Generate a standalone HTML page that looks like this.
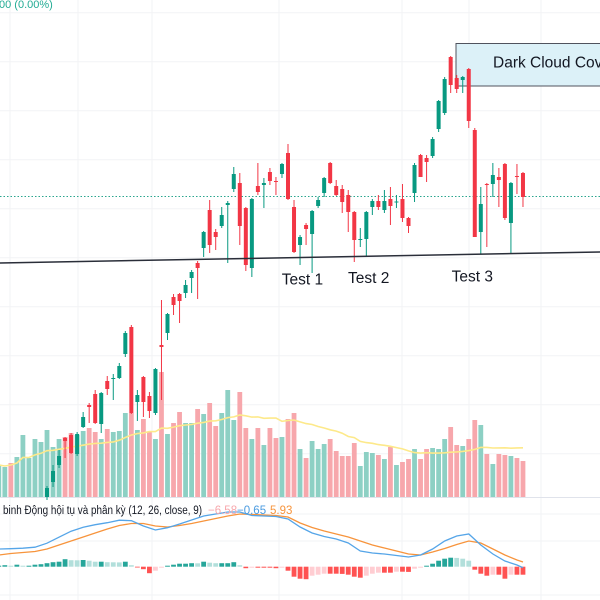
<!DOCTYPE html>
<html><head><meta charset="utf-8"><style>
html,body{margin:0;padding:0;background:#fff;}
#wrap{position:relative;width:600px;height:600px;overflow:hidden;}
svg text{font-family:"Liberation Sans","Noto Sans CJK SC",sans-serif;}
</style></head><body>
<div id="wrap">
<svg id="chart" width="600" height="600" viewBox="0 0 600 600"></svg>
</div>
<script>
// ---- data ----
const opens  = [30.3,31.8,33.5,36.2,36.5,34.6,37.3,39.5,40.6,37.6,41.9,42.1,42.2,44.6,47.3,39.8,42.3,40.4,38.7,45.5,46.7,50.3,50.6,50.7,52.2,53.7,55.2,59.0,56.8,57.4,59.5,61.1,61.7,59.2,53.2,61.4,61.5,62.8,61.9,62.6,64.7,59.3,55.5,57.5,56.6,59.4,60.7,63.7,61.4,61.1,60.5,58.8,56.0,56.1,59.3,59.9,59.0,60.1,59.75,60.1,58.2,60.7,64.5,64.2,64.4,67.1,68.7,74.3,72.2,72.0,73.1,67.0,56.8,61.6,61.6,62.3,63.6,57.7,62.4,62.7];
const highs  = [31.4,33.5,35.0,36.3,36.7,36.8,38.8,39.7,41.0,40.8,42.4,42.6,43.7,46.9,47.5,41.0,42.4,40.8,43.2,50.0,48.7,50.6,50.7,52.0,53.0,53.9,56.9,60.0,57.1,59.3,59.9,63.3,62.7,59.3,60.2,63.7,62.2,63.2,62.3,63.7,65.6,60.0,56.5,57.7,59.0,60.3,62.3,63.8,62.0,61.5,61.0,58.9,57.2,58.9,60.1,60.5,61.0,61.3,60.5,61.6,58.3,63.7,64.6,64.5,66.3,70.0,72.3,74.4,72.5,72.4,73.2,67.2,61.3,61.7,63.7,63.2,63.7,61.8,63.6,62.8];
const lows   = [30.0,31.3,33.2,34.2,34.6,34.4,37.2,37.7,37.6,36.7,40.5,40.0,42.1,44.3,38.6,37.9,38.3,38.2,38.5,40.0,46.0,48.5,47.7,50.2,50.7,50.1,54.3,54.7,55.0,57.2,53.7,60.8,55.5,52.9,52.3,60.5,59.2,61.5,60.5,62.2,60.0,54.7,53.5,55.5,52.7,59.2,60.3,61.6,60.4,58.7,56.8,53.8,55.3,54.3,58.5,59.0,58.7,57.5,59.2,57.8,56.7,59.8,62.3,61.8,64.2,66.8,68.5,70.7,70.7,70.7,67.2,56.3,54.6,55.3,60.3,59.3,58.0,54.7,60.6,59.3];
const closes = [31.2,32.9,34.4,35.9,34.7,36.6,38.3,39.3,37.7,40.7,41.1,42.2,43.4,46.7,38.7,40.5,39.8,38.9,43.1,45.3,48.6,49.5,49.9,51.5,52.8,53.2,56.8,55.5,56.3,58.5,59.7,62.6,57.4,53.5,60.1,60.8,61.7,61.9,61.8,63.6,60.1,54.8,56.3,57.1,58.9,60.0,62.2,61.7,60.5,59.8,58.8,56.0,56.1,58.8,59.9,59.3,59.9,59.4,59.85,58.2,57.4,63.5,62.3,63.8,66.1,69.9,72.1,71.5,71.1,72.3,67.9,56.3,59.6,61.5,62.5,62.0,58.2,61.7,62.3,60.3];
const preVolumes = [320,300,340,400,620,390,580,550];
const preVolumeUp = [true,true,false,true,true,true,true,true];
const volumes = [670,500,580,600,640,620,660,690,650,580,680,650,660,840,840,670,780,650,580,1250,630,740,850,740,740,880,830,940,710,840,1070,770,1050,690,580,690,520,690,590,600,780,840,480,390,560,480,530,580,460,410,410,540,310,450,440,420,380,500,320,350,380,480,380,480,490,480,580,700,520,510,580,770,720,430,330,430,420,410,390,360];
const histValues = [1,1.5,1,2,1,1,2,2.5,3.5,4.5,5,7.5,6.5,6.4,6.7,6,5,5,4.5,4.4,4.3,5,1.5,-0.5,-2.5,-6.5,-4,-1,1,2,3,3,3.5,3.4,5,4,3.5,3.5,3.5,4.5,1.5,-1.5,-1,-1,-1,-1,-1.5,-1,-4,-10,-12,-12.5,-9,-8,-7,-7,-7,-7.2,-8,-10,-11,-9,-7,-6,-6,-6,-5,-5,-5.2,-2,-1,1,3,6,8,9,8.8,8,6,-3,-7,-9,-8,-8,-12,-8,-8,-8];
const macdIndex = [-8,-6,-4,-2,0,2,4,6,8,10,12,14,16,18,20,22,24,26,28,30,32,34,36,38,40,42,44,46,48,50,52,54,56,58,60,62,64,66,68,70,72,74,76,78,79];
const macdValues = [17.7,18,18.5,19.5,23.5,29.5,35.5,39.5,42,44,46.5,46,40.7,36.7,39,42.7,46.7,50.7,52.7,54.7,54.7,51.2,50.7,50.2,47.7,39.7,33.7,30.2,27.7,23.7,15.7,13.7,12.7,11.2,9.7,11.7,17.7,25.7,30.7,32.7,21.7,12.7,5.7,1.7,-1];
const signalValues = [11.7,13.2,14.2,15.2,17.7,21.7,25.7,29.7,33.7,37.7,41.2,43.2,43.2,40.7,39.7,41.2,43.2,45.7,48.2,50.7,52.7,52.2,51.7,51.2,49.7,43.7,39.2,35.7,32.7,29.7,25.7,21.7,18.7,15.7,12.7,11.7,14.7,18.2,22.2,25.7,23.7,17.7,11.7,6.7,4.7];
const testLabels = ["Test 1","Test 2","Test 3"];
const testIndex = [42.4,53.4,70.6];

// ---- scales ----
const NS="http://www.w3.org/2000/svg";
const svg=document.getElementById('chart');
const xOf=i=>47+i*6.025;
const yP=p=>(80-p)*10;
const volBase=497, yV=v=>volBase-v/10;
const macdZero=566.7, yM=v=>macdZero-v;
const trendY=x=>263-11*x/600;
function mk(tag,attrs,parent){const e=document.createElementNS(NS,tag);for(const k in attrs)e.setAttribute(k,attrs[k]);(parent||svg).appendChild(e);return e;}

const gGrid=mk('g',{});


[10,78,152,279,402,469,541].forEach(x=>mk('line',{x1:x,y1:0,x2:x,y2:600,stroke:'#f2f3f5','stroke-width':1},gGrid));
for(let y=12.7;y<480;y+=49)mk('line',{x1:0,y1:y,x2:600,y2:y,stroke:'#f2f3f5','stroke-width':1},gGrid);
[514,541,595].forEach(y=>mk('line',{x1:0,y1:y,x2:600,y2:y,stroke:'#f2f3f5','stroke-width':1},gGrid));
const sep=mk('line',{x1:0,y1:497.5,x2:600,y2:497.5,stroke:'#e0e3eb','stroke-width':1});



// Dark Cloud Cover box (behind candles)
const box=mk('g',{});


mk('rect',{x:456,y:43.5,width:160,height:42.5,fill:'#dcf1f8',stroke:'#50535e','stroke-width':1},box);
const bt=mk('text',{x:493,y:67.5,'font-size':'15.5',fill:'#131722'},box);
bt.textContent='Dark Cloud Cover';



const gVol=mk('g',{});


const allVol=preVolumes.concat(volumes);
for(let k=0;k<allVol.length;k++){
  const i=k-preVolumes.length;
  const up= i<0 ? preVolumeUp[k] : closes[i]>=opens[i];
  const r=mk('rect',{x:xOf(i)-2.4,y:yV(allVol[k]),width:4.8,height:allVol[k]/10,fill:up?'#8dd0c4':'#f7a7ac'},gVol);
  
  
}
let maPts=[];
for(let k=0;k<allVol.length;k++){
  const s=Math.max(0,k-19);let sum=0;for(let j=s;j<=k;j++)sum+=allVol[j];
  maPts.push((xOf(k-preVolumes.length)).toFixed(1)+','+yV(sum/(k-s+1)).toFixed(1));
}
const ma=mk('polyline',{points:maPts.join(' '),fill:'none',stroke:'#fde98a','stroke-width':1.6});



const pl=mk('line',{x1:0,y1:196.5,x2:600,y2:196.5,stroke:'#2aa58e','stroke-width':1,'stroke-dasharray':'1.5 2'});



const gC=mk('g',{});


for(let i=0;i<opens.length;i++){
  const up=closes[i]>=opens[i];const col=up?'#089981':'#f23645';
  const g=mk('g',{},gC);
  
  
  const x=xOf(i);
  mk('line',{x1:x,y1:yP(highs[i]),x2:x,y2:yP(lows[i]),stroke:col,'stroke-width':1},g);
  const top=yP(Math.max(opens[i],closes[i])),bot=yP(Math.min(opens[i],closes[i]));
  mk('rect',{x:x-2,y:top,width:4,height:Math.max(1,bot-top),fill:col},g);
}

const tl=mk('line',{x1:0,y1:263,x2:600,y2:252,stroke:'#2a2e39','stroke-width':1.5});



testLabels.forEach((t,k)=>{
  const x=xOf(testIndex[k]);
  const tx=mk('text',{x:x,y:trendY(x)+27,'font-size':'15.5','text-anchor':'middle',fill:'#131722'});
  tx.textContent=t;
  
  
});

const tp=mk('text',{x:-1,y:8,'font-size':'11',fill:'#22ab94'});
tp.textContent='00 (0.00%)';



const gH=mk('g',{});


for(let k=0;k<histValues.length;k++){
  const i=k-8,v=histValues[k],prev=k>0?histValues[k-1]:v;
  let col= v>=0 ? (v>=prev?'#26a69a':'#b2dfdb') : (v<=prev?'#ff5252':'#ffcdd2');
  const r=mk('rect',{x:xOf(i)-2.4,y:v>=0?yM(v):macdZero,width:4.8,height:Math.max(0.8,Math.abs(v)),fill:col},gH);
  
  
}
const sigLine=mk('polyline',{points:macdIndex.map((i,k)=>xOf(i).toFixed(1)+','+yM(signalValues[k]).toFixed(1)).join(' '),fill:'none',stroke:'#f7943c','stroke-width':1.3});


const macdLine=mk('polyline',{points:macdIndex.map((i,k)=>xOf(i).toFixed(1)+','+yM(macdValues[k]).toFixed(1)).join(' '),fill:'none',stroke:'#55a5e8','stroke-width':1.3});



const ml=mk('text',{x:3,y:514,'font-size':'11.5',fill:'#131722',textLength:199,lengthAdjust:'spacingAndGlyphs'});
ml.textContent='binh Động hội tụ và phân kỳ (12, 26, close, 9)';


const v1=mk('text',{x:208,y:514,'font-size':'11.5',fill:'#f7a7ac'});
v1.textContent='−6.58';


const v2=mk('text',{x:237,y:514,'font-size':'11.5',fill:'#4a9be0'});
v2.textContent='−0.65';


const v3=mk('text',{x:270,y:514,'font-size':'11.5',fill:'#f7943c'});
v3.textContent='5.93';


</script>
</body></html>
